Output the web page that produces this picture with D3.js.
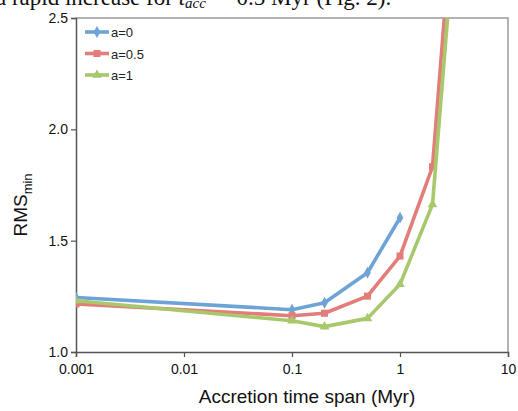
<!DOCTYPE html>
<html>
<head>
<meta charset="utf-8">
<script src="https://cdn.jsdelivr.net/npm/d3@7"></script>
<style>
  body { margin: 0; background: #fff; }
  svg { display: block; }
</style>
</head>
<body>
<script>
// accretion time span (Myr) on a log axis
var times = [0.001, 0.1, 0.2, 0.5, 1, 2, 3];
var seriesNames = ["a=0", "a=0.5", "a=1"];
var rmsA0 = [1.245, 1.19, 1.221, 1.356, 1.603];
var rmsA05 = [1.216, 1.163, 1.174, 1.251, 1.431, 1.832, 2.91];
var rmsA1 = [1.23, 1.14, 1.114, 1.151, 1.304, 1.663, 2.72];
var xTicks = [0.001, 0.01, 0.1, 1, 10];
var yTicks = [1.0, 1.5, 2.0, 2.5];

var WIDTH = 518, HEIGHT = 411;
// plot box (note: "top" is a reserved window property, so pLeft/pTop...)
var pLeft = 76, pRight = 508, pTop = 18, pBottom = 352;
var colors = ["#6ea3d6", "#e27d79", "#a8c86c"];
var markers = [d3.symbolDiamond, d3.symbolSquare, d3.symbolTriangle];

var svg = d3.select("body").append("svg")
    .attr("width", WIDTH)
    .attr("height", HEIGHT);

// the clipped line of text from the page above the figure
var serif = "'Liberation Serif', 'DejaVu Serif', serif";
var head = svg.append("text")
    .attr("x", -4).attr("y", 5)
    .style("font-family", serif)
    .style("font-size", "23px")
    .style("fill", "#111");
head.append("tspan").text("a rapid increase for ");
head.append("tspan").style("font-style", "italic").text("t");
head.append("tspan").attr("dy", 3).style("font-style", "italic").style("font-size", "15px").text("acc");
head.append("tspan").attr("dy", -3).text(" \u223c 0.5 Myr (Fig. 2).");

var x = d3.scaleLog().domain([0.001, 10]).range([pLeft, pRight]);
var y = d3.scaleLinear().domain([1, 2.5]).range([pBottom, pTop]);

svg.append("defs").append("clipPath").attr("id", "plot")
  .append("rect").attr("x", pLeft).attr("y", pTop)
  .attr("width", pRight - pLeft).attr("height", pBottom - pTop);

// frame
svg.append("path")
    .attr("d", "M" + pLeft + "," + pTop + "H" + pRight + "V" + pBottom)
    .attr("fill", "none").attr("stroke", "#9a9a9a").attr("stroke-width", 1.5);

var fontAxis = "'Liberation Sans', Arial, sans-serif";

var yAxis = svg.append("g")
    .attr("transform", "translate(" + pLeft + ",0)")
    .call(d3.axisLeft(y).tickValues(yTicks).tickFormat(d3.format(".1f")).tickSize(5).tickPadding(3));
var xAxis = svg.append("g")
    .attr("transform", "translate(0," + pBottom + ")")
    .call(d3.axisBottom(x).tickValues(xTicks).tickFormat(function(d){ return String(d); }).tickSize(5).tickPadding(7));

[xAxis, yAxis].forEach(function(g){
  g.select(".domain").attr("stroke", "#555").attr("stroke-width", 1.5);
  g.selectAll(".tick line").attr("stroke", "#555").attr("stroke-width", 1.2);
  g.selectAll("text").style("font-family", fontAxis).style("font-size", "14px").attr("fill", "#111");
});

// series
var allSeries = [rmsA0, rmsA05, rmsA1];
var line = d3.line()
    .x(function(d){ return x(d[0]); })
    .y(function(d){ return y(d[1]); });

var plot = svg.append("g").attr("clip-path", "url(#plot)");
allSeries.forEach(function(vals, i){
  var pts = vals.map(function(v, j){ return [times[j], v]; });
  plot.append("path")
      .datum(pts)
      .attr("d", line)
      .attr("fill", "none")
      .attr("stroke", colors[i])
      .attr("stroke-width", 3.6)
      .attr("stroke-linejoin", "round");
  plot.selectAll(".m" + i)
      .data(pts)
      .enter().append("path")
      .attr("transform", function(d){ return "translate(" + x(d[0]) + "," + y(d[1]) + ")"; })
      .attr("d", d3.symbol().type(markers[i]).size(i == 1 ? 50 : 40))
      .attr("fill", colors[i]);
});

// legend
var legend = svg.append("g").attr("transform", "translate(85,32)");
seriesNames.forEach(function(name, i){
  var g = legend.append("g").attr("transform", "translate(0," + (i * 21.5) + ")");
  g.append("line").attr("x1", 0).attr("x2", 24)
      .attr("stroke", colors[i]).attr("stroke-width", 3.6);
  g.append("path")
      .attr("transform", "translate(12,0)")
      .attr("d", d3.symbol().type(markers[i]).size(i == 1 ? 50 : 40))
      .attr("fill", colors[i]);
  g.append("text").attr("x", 26).attr("y", 5)
      .style("font-family", fontAxis).style("font-size", "13px").style("fill", "#222")
      .text(name);
});

// axis titles
svg.append("text")
    .attr("x", 307).attr("y", 403)
    .attr("text-anchor", "middle")
    .style("font-family", fontAxis).style("font-size", "19px").style("fill", "#111")
    .text("Accretion time span (Myr)");

var yt = svg.append("text")
    .attr("transform", "translate(27,205) rotate(-90)")
    .attr("text-anchor", "middle")
    .style("font-family", fontAxis).style("font-size", "19px").style("fill", "#111");
yt.append("tspan").text("RMS");
yt.append("tspan").attr("dy", 5).style("font-size", "13px").text("min");
</script>
</body>
</html>
